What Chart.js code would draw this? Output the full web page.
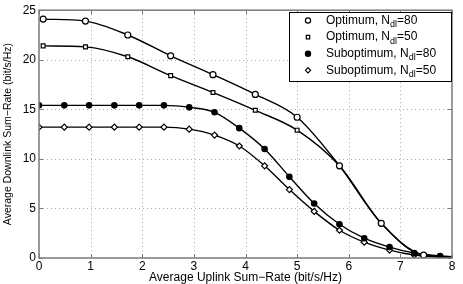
<!DOCTYPE html>
<html lang="en">
<head>
<meta charset="UTF-8">
<title>Sum-Rate</title>
<script src="https://cdn.jsdelivr.net/npm/chart.js"></script>
<style>
  body { margin: 0; background: #fff; }
  .box { width: 463px; height: 284px; }
</style>
</head>
<body>
<div class="box"><canvas id="myChart"></canvas></div>
<script>
// values
const optX = [0.08, 0.9, 1.72, 2.55, 3.37, 4.19, 5.0, 5.82, 6.63, 7.45, 8.27];
const opt80 = [24.1, 23.9, 22.5, 20.4, 18.5, 16.5, 14.2, 9.3, 3.5, 0.3, 0.05];
const opt50 = [21.4, 21.3, 20.3, 18.4, 16.7, 14.9, 12.9, 9.3, 3.5, 0.3, 0.05];
const subX = [0, 0.49, 0.97, 1.46, 1.94, 2.42, 2.91, 3.40, 3.88, 4.37, 4.85, 5.33, 5.82, 6.30, 6.79, 7.27, 7.77, 8.25];
const sub80 = [15.4, 15.4, 15.4, 15.4, 15.4, 15.4, 15.2, 14.7, 13.1, 11.0, 8.2, 5.5, 3.4, 2.0, 1.1, 0.5, 0.2, 0.1];
const sub50 = [13.2, 13.2, 13.2, 13.2, 13.2, 13.2, 13.0, 12.4, 11.3, 9.3, 6.9, 4.7, 2.8, 1.6, 0.8, 0.3, 0.1, 0.05];
const xTicks = [0, 1, 2, 3, 4, 5, 6, 7, 8];
const yTicks = [0, 5, 10, 15, 20, 25];
const names = ['Optimum, N', 'Optimum, N', 'Suboptimum, N', 'Suboptimum, N'];
const sizes = ['80', '50', '80', '50'];

const FONT = 'Liberation Sans, Arial, sans-serif';
Chart.defaults.font.family = FONT;
Chart.defaults.color = '#000';

function pts(xs, ys) { return xs.map((x, i) => ({ x: x, y: ys[i] })); }

function serie(xs, ys, style, fill, r) {
  return {
    data: pts(xs, ys),
    borderColor: '#000',
    borderWidth: 1.4,
    pointStyle: style,
    pointRadius: r,
    pointBorderWidth: 1.2,
    pointBorderColor: '#000',
    pointBackgroundColor: fill,
    cubicInterpolationMode: 'monotone',
    showLine: true
  };
}

const sets = [
  serie(optX, opt80, 'circle', '#fff', 3),
  serie(optX, opt50, 'rect', '#fff', 2.7),
  serie(subX, sub80, 'circle', '#000', 2.7),
  serie(subX, sub50, 'rectRot', '#fff', 3)
];

// dotted grid under the lines
const grille = {
  id: 'grille',
  beforeDatasetsDraw(chart) {
    const c = chart.ctx, a = chart.chartArea;
    const xs = chart.scales.x, ys = chart.scales.y;
    c.save();
    c.strokeStyle = '#aaa';
    c.lineWidth = 1;
    c.setLineDash([1, 3]);
    c.beginPath();
    xTicks.slice(1, -1).forEach(v => {
      const px = Math.round(xs.getPixelForValue(v)) + 0.5;
      c.moveTo(px, a.top); c.lineTo(px, a.bottom);
    });
    yTicks.slice(1, -1).forEach(v => {
      const py = Math.round(ys.getPixelForValue(v)) + 0.5;
      c.moveTo(a.left, py); c.lineTo(a.right, py);
    });
    c.stroke();
    c.restore();
  }
};

// box round the plot, inward ticks, legend with subscripts
const matlabBits = {
  id: 'matlabBits',
  afterDatasetsDraw(chart) {
    const c = chart.ctx, a = chart.chartArea;
    const xs = chart.scales.x, ys = chart.scales.y;
    c.save();
    c.strokeStyle = '#7a7a7a';
    c.lineWidth = 1.5;
    c.strokeRect(a.left, a.top, a.right - a.left, a.bottom - a.top);
    c.beginPath();
    xTicks.forEach(v => {
      const px = Math.round(xs.getPixelForValue(v)) + 0.5;
      c.moveTo(px, a.bottom); c.lineTo(px, a.bottom - 4);
      c.moveTo(px, a.top); c.lineTo(px, a.top + 4);
    });
    yTicks.forEach(v => {
      const py = Math.round(ys.getPixelForValue(v)) + 0.5;
      c.moveTo(a.left, py); c.lineTo(a.left + 4, py);
      c.moveTo(a.right, py); c.lineTo(a.right - 4, py);
    });
    c.lineWidth = 1;
    c.stroke();

    // legend
    const lx = 289, ly = 12, lw = 162, lh = 69;
    c.fillStyle = '#fff';
    c.fillRect(lx, ly, lw, lh);
    c.strokeStyle = '#000';
    c.strokeRect(lx + 0.5, ly + 0.5, lw, lh);
    for (let i = 0; i < 4; i++) {
      const cy = ly + 8.5 + i * 16.6;
      const d = sets[i];
      c.lineWidth = 1.2;
      c.strokeStyle = '#000';
      c.fillStyle = d.pointBackgroundColor;
      Chart.helpers.drawPoint(c, { pointStyle: d.pointStyle, radius: d.pointStyle === 'rect' ? 2.4 : 2.6, borderWidth: 1.2 }, 308, cy);
      c.fillStyle = '#000';
      c.textBaseline = 'middle';
      c.font = '12px ' + FONT;
      let tx = 326;
      c.fillText(names[i], tx, cy);
      tx += c.measureText(names[i]).width;
      c.font = '9px ' + FONT;
      c.fillText('dl', tx, cy + 4);
      tx += c.measureText('dl').width;
      c.font = '12px ' + FONT;
      c.fillText('=' + sizes[i], tx, cy);
    }
    c.restore();
  }
};

new Chart(document.getElementById('myChart'), {
  type: 'scatter',
  data: { datasets: sets },
  options: {
    responsive: true,
    maintainAspectRatio: false,
    animation: false,
    layout: { padding: { top: 7, right: 11, left: 0, bottom: 0 } },
    plugins: { legend: { display: false }, tooltip: { enabled: false } },
    scales: {
      x: {
        type: 'linear', min: 0, max: 8,
        afterBuildTicks: s => { s.ticks = xTicks.map(v => ({ value: v })); },
        afterFit: s => { s.height = 26; },
        ticks: { font: { size: 12 }, padding: 1, maxRotation: 0 },
        grid: { display: false, drawTicks: false, tickLength: 0 },
        border: { display: false },
        title: { display: true, text: 'Average Uplink Sum\u2212Rate (bit/s/Hz)', font: { size: 12 }, padding: { top: 0, bottom: -1 } }
      },
      y: {
        type: 'linear', min: 0, max: 25,
        afterBuildTicks: s => { s.ticks = yTicks.map(v => ({ value: v })); },
        afterFit: s => { s.width = 39; },
        ticks: { font: { size: 12 }, padding: 3 },
        grid: { display: false, drawTicks: false, tickLength: 0 },
        border: { display: false },
        title: { display: true, text: 'Average Downlink Sum\u2212Rate (bit/s/Hz)', font: { size: 10.5 }, padding: { top: 2, bottom: 0 } }
      }
    }
  },
  plugins: [grille, matlabBits]
});
</script>
</body>
</html>
